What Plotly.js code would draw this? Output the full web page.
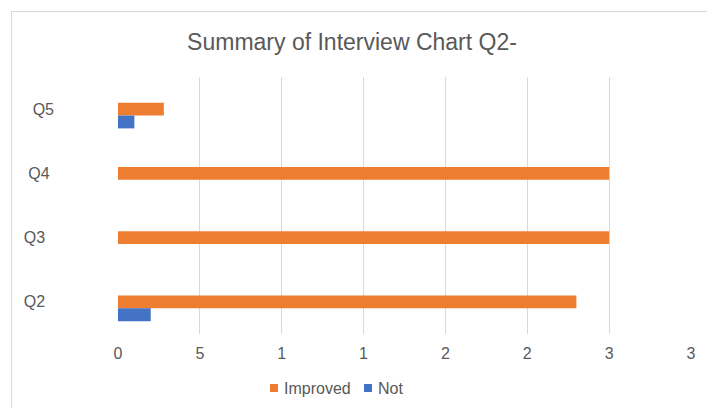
<!DOCTYPE html>
<html>
<head>
<meta charset="utf-8">
<script src="https://cdn.plot.ly/plotly-3.0.1.min.js"></script>
<style>html,body{margin:0;padding:0;background:#fff;}#chart{width:707px;height:408px;}</style>
</head>
<body>
<div id="chart"></div>
<script>
const categories = ['Q2', 'Q3', 'Q4', 'Q5'];
const categoryLabels = ['Q2\u00a0\u00a0', 'Q3\u00a0\u00a0', 'Q4\u00a0', 'Q5'];
const improved = [2.8, 3, 3, 0.28];
const notImproved = [0.2, 0, 0, 0.1];
const xTickVals = [0, 0.5, 1, 1.5, 2, 2.5, 3, 3.5];
const xTickText = ['0', '5', '1', '1', '2', '2', '3', '3'];
const seriesNames = ['Improved', 'Not'];
const seriesColors = ['#ED7D31', '#4472C4'];

const W = 707, H = 408;
const L = 118, R = 16, T = 77, B = 74;
const pw = W - L - R, ph = H - T - B;
const px2x = p => (p - L) / pw;
const py2y = p => (H - B - p) / ph;

const font = 'Liberation Sans, Arial, sans-serif';
const grey = '#595959';
const traces = [
  {type: 'bar', orientation: 'h', name: seriesNames[0], y: categories, x: improved,
   marker: {color: seriesColors[0]}, width: 0.2, offset: -0.1},
  {type: 'bar', orientation: 'h', name: seriesNames[1], y: categories, x: notImproved,
   marker: {color: seriesColors[1]}, width: 0.2, offset: -0.3}
];

const legendItems = [{sq: 270, tx: 282}, {sq: 364, tx: 376}];
const shapes = [{type: 'rect', xref: 'paper', yref: 'paper', x0: px2x(11.5), x1: px2x(760),
                 y0: py2y(460), y1: py2y(11.5), line: {color: '#d9d9d9', width: 1}, layer: 'below'}];
const annotations = [];
legendItems.forEach((it, i) => {
  shapes.push({type: 'rect', xref: 'paper', yref: 'paper', x0: px2x(it.sq), x1: px2x(it.sq + 8),
               y0: py2y(392), y1: py2y(384), fillcolor: seriesColors[i], line: {width: 0}});
  annotations.push({xref: 'paper', yref: 'paper', x: px2x(it.tx), y: py2y(388), xanchor: 'left',
                    yanchor: 'middle', showarrow: false, text: seriesNames[i],
                    font: {family: font, size: 16, color: grey}});
});

const layout = {
  width: W, height: H,
  margin: {l: L, r: R, t: T, b: B},
  paper_bgcolor: '#fff', plot_bgcolor: '#fff',
  barmode: 'overlay',
  font: {family: font, color: grey, size: 16},
  title: {text: 'Summary of Interview Chart Q2-', font: {family: font, size: 23, color: grey},
          xref: 'container', x: 352 / W, xanchor: 'center', yref: 'container', y: 1 - 42 / H, yanchor: 'middle'},
  xaxis: {range: [0, 3.5], tickvals: xTickVals, ticktext: xTickText, showgrid: true,
          gridcolor: '#d9d9d9', gridwidth: 1, zeroline: false, showline: false, ticks: '',
          ticklabelstandoff: 8, tickfont: {family: font, size: 16, color: grey}, fixedrange: true},
  yaxis: {type: 'category', categoryarray: categories, tickvals: categories, ticktext: categoryLabels,
          showgrid: false, zeroline: false, showline: false, ticks: '', ticklabelstandoff: 63,
          tickfont: {family: font, size: 16, color: grey}, range: [-0.5, 3.5], fixedrange: true},
  showlegend: false,
  shapes: shapes,
  annotations: annotations
};
Plotly.newPlot('chart', traces, layout, {staticPlot: true, displayModeBar: false});
</script>
</body>
</html>
